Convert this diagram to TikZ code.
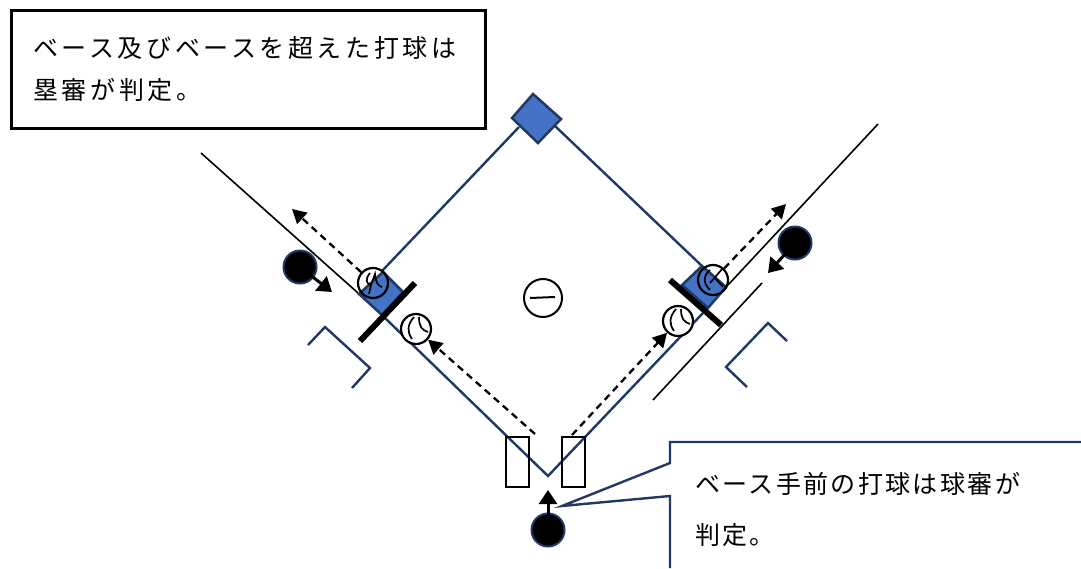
\documentclass[tikz,border=0pt]{standalone}
\usepackage{fontspec}
\usetikzlibrary{arrows.meta}
\newfontfamily\noteWide{Noto Sans CJK JP}[LetterSpace=14.5]
\newfontfamily\noteTight{Noto Sans CJK JP}[LetterSpace=9.5]
\definecolor{navy}{HTML}{1F3864}
\definecolor{basefill}{HTML}{4472C4}
\tikzset{
	fieldline/.style={draw=navy, line width=2.4pt},
	foulline/.style={draw=black, line width=1.6pt},
	basemark/.style={draw=navy, fill=basefill, line width=2.5pt, line join=miter},
	footbar/.style={draw=black, line width=6pt},
	umpire/.style={circle, draw=navy, fill=black, line width=2pt, minimum size=33pt, inner sep=0pt},
	ballmark/.style={circle, draw=black, line width=2.2pt, minimum size=30pt, inner sep=0pt},
	ballpath/.style={-{Triangle[length=14pt,width=15pt]}, dash pattern=on 7pt off 5pt, line width=2.3pt},
	moveto/.style={-{Triangle[length=14pt,width=18pt]}, line width=3pt},
	noteline/.style={font=\fontsize{25}{25}\selectfont, anchor=west, inner sep=0pt},
}
\newcommand{\seamBall}[3]{
	% args:
	%     name
	%     x
	%     y
	\node[ballmark, fill=white] (#1) at (#2,#3) {};
	\begin{scope}[shift={(#2,#3)}, line width=1.7pt]
		\draw (-2,-12) .. controls (-9,-4) and (-9,3) .. (-4,10);
		\draw (3,-12) .. controls (3,-2) and (6,1) .. (12,3);
	\end{scope}
}
\begin{document}
\begin{tikzpicture}[x=1pt, y=-1pt]
	\useasboundingbox (0,0) rectangle (1081,568);
	% corners of the field
	\coordinate (home) at (548,476);
	\coordinate (secondL) at (519,127);
	\coordinate (secondR) at (555,126);
	\coordinate (thirdTop) at (382,271);
	\coordinate (thirdLow) at (385,318);
	\coordinate (firstTop) at (702,266);
	\coordinate (firstLow) at (703,313);
	% field lines
	\draw[fieldline] (secondL) -- (thirdTop);
	\draw[fieldline] (secondR) -- (firstTop);
	\draw[fieldline] (thirdLow) -- (home) -- (firstLow);
	% bases
	\draw[basemark] (533,94) -- (561,119) -- (538,143) -- (512,118) -- cycle;
	\draw[basemark] (383,272) -- (403,292) -- (382,315) -- (359,294) -- cycle;
	\draw[basemark] (702,266) -- (726,287) -- (708,308) -- (682,285) -- cycle;
	% foul lines
	\draw[foulline] (201,153) -- (358,293);
	\draw[foulline] (878,124) -- (728,285);
	\draw[foulline] (653,400) -- (762,283);
	\draw[footbar] (415,283) -- (360,341);
	\draw[footbar] (670,280) -- (721,325);
	% coach boxes
	\draw[fieldline] (308,345) -- (325,327) -- (370,368) -- (352,388);
	\draw[fieldline] (747,387) -- (726,367) -- (768,323) -- (787,341);
	% batter boxes
	\draw[line width=1.7pt] (506,437) rectangle (529,487);
	\draw[line width=1.7pt] (562,437) rectangle (585,487);
	% balls
	\seamBall{ballThird}{416}{329}
	\seamBall{ballFirst}{678}{321}
	% the two over the bases let the blue show through
	\node[ballmark] (overThird) at (373,283) {};
	\draw[line width=1.7pt] (370,273) .. controls (365,279) and (366,284) .. (371,285) -- (369,294);
	\draw[line width=1.7pt] (371,285) -- (375,274) .. controls (376,283) and (378,286) .. (382,287);
	\node[ballmark] (overFirst) at (713,280) {};
	\draw[line width=1.7pt] (710,270) .. controls (703,276) and (703,283) .. (710,290);
	\draw[line width=1.7pt] (723,268) -- (710,283);
	\draw[line width=1.7pt] (715,278) -- (723,287);
	% pitcher
	\node[circle, draw=black, line width=2pt, minimum size=38pt, inner sep=0pt] (pitcher) at (543,298) {};
	\draw[line width=2pt] (530,298) -- (555,297);
	% umpires
	\node[umpire] (umpThird) at (300,267) {};
	\node[umpire] (umpFirst) at (795,243) {};
	\node[umpire] (umpHome) at (548,530) {};
	\coordinate (lookThird) at (332,292);
	\coordinate (lookFirst) at (768,273);
	\coordinate (lookHome) at (548,490);
	\draw[moveto] (umpThird.center) -- (lookThird);
	\draw[moveto] (umpFirst.center) -- (lookFirst);
	\draw[moveto] (umpHome.center) -- (lookHome);
	% ball paths
	\coordinate (startL) at (535,434);
	\coordinate (startR) at (572,435);
	\coordinate (farThird) at (292,209);
	\coordinate (farFirst) at (786,204);
	\draw[ballpath] (startL) -- (ballThird);
	\draw[ballpath] (startR) -- (ballFirst);
	\draw[ballpath] (overThird) -- (farThird);
	\draw[ballpath] (overFirst) -- (farFirst);
	% notes
	\node[draw=black, fill=white, line width=2.7pt, minimum width=474pt, minimum height=118pt, anchor=north west] (noteBox) at (10,9) {};
	\node[noteline] (noteA) at (33,48) {\noteWide ベース及びベースを超えた打球は};
	\node[noteline] (noteB) at (33,90) {\noteWide 塁審が判定。};
	\coordinate (tip) at (562,506);
	\draw[fieldline] (1081,442) -- (670,442) -- (670,463) -- (tip) -- (670,496) -- (670,568);
	\node[noteline] (noteC) at (695,484) {\noteTight ベース手前の打球は球審が};
	\node[noteline] (noteD) at (695,535) {\noteTight 判定。};
\end{tikzpicture}
\end{document}
